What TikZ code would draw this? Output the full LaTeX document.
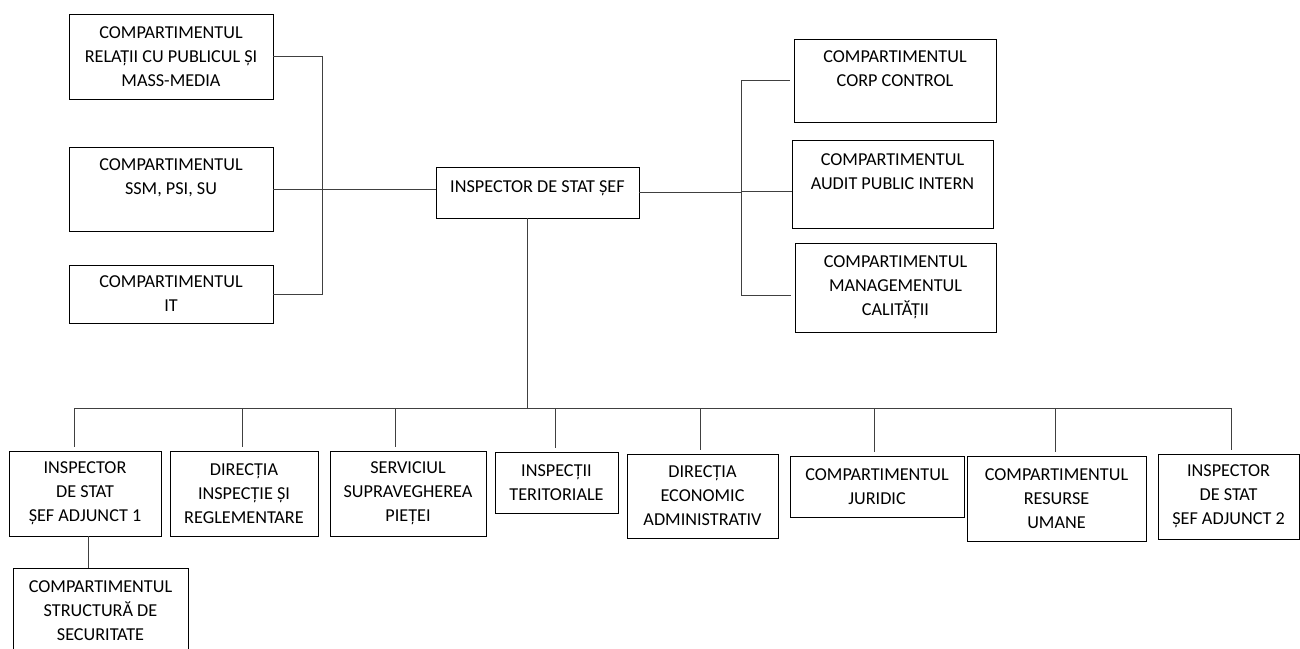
\documentclass[tikz,border=0pt]{standalone}
\usepackage{fontspec}
\setmainfont{Carlito}

\tikzset{
	unit/.style={draw, line width=0.9pt, align=center, inner sep=2pt, font=\fontsize{18.2}{24}\selectfont},
	link/.style={draw=black!75, line width=0.8pt},
}

\begin{document}
\begin{tikzpicture}[x=1pt, y=-1pt]
	\useasboundingbox [fill=white] (0,0) rectangle (1300,648);

	% Nodes, left column
	\node [unit, minimum width=204pt, minimum height=85pt] (rel)  at (171,56.5) {COMPARTIMENTUL\\RELAȚII CU PUBLICUL ȘI\\MASS-MEDIA};
	\node [unit, minimum width=204pt, minimum height=84pt] (ssm)  at (171,189)  {COMPARTIMENTUL\\SSM, PSI, SU\\\mbox{}};
	\node [unit, minimum width=204pt, minimum height=58pt] (itc)  at (171,294)  {COMPARTIMENTUL\\IT};

	% Nodes, centre and right column
	\node [unit, minimum width=203pt, text height=21pt, text depth=22pt, inner ysep=4pt] (chief) at (537.5,192.5) {INSPECTOR DE STAT ȘEF};
	\node [unit, minimum width=202pt, minimum height=83pt] (corp)  at (895,80.5)   {COMPARTIMENTUL\\CORP CONTROL\\\mbox{}};
	\node [unit, minimum width=201pt, minimum height=88pt] (audit) at (892.5,184)  {COMPARTIMENTUL\\AUDIT PUBLIC INTERN\\\mbox{}};
	\node [unit, minimum width=201pt, minimum height=89pt] (mgmt)  at (895.5,287.5) {COMPARTIMENTUL\\MANAGEMENTUL\\CALITĂȚII};

	% Nodes, bottom row
	\node [unit, minimum width=152pt, minimum height=85pt] (ins1) at (85,493.5)    {INSPECTOR\\DE STAT\\ȘEF ADJUNCT 1};
	\node [unit, minimum width=148pt, minimum height=85pt] (dir1) at (244,493.5)   {DIRECȚIA\\INSPECȚIE ȘI\\REGLEMENTARE};
	\node [unit, minimum width=156pt, minimum height=85pt] (srv)  at (408,493.5)   {SERVICIUL\\SUPRAVEGHEREA\\PIEȚEI};
	\node [unit, minimum width=123pt, minimum height=61pt] (teri) at (556.5,482.5) {INSPECȚII\\TERITORIALE};
	\node [unit, minimum width=151pt, minimum height=84pt] (eco)  at (702.5,496)   {DIRECȚIA\\ECONOMIC\\ADMINISTRATIV};
	\node [unit, minimum width=174pt, minimum height=61pt] (jur)  at (877,486.5)   {COMPARTIMENTUL\\JURIDIC};
	\node [unit, minimum width=179pt, minimum height=85pt] (hr)   at (1056.5,498.5) {COMPARTIMENTUL\\RESURSE\\UMANE};
	\node [unit, minimum width=141pt, minimum height=85pt] (ins2) at (1228.5,496.5) {INSPECTOR\\DE STAT\\ȘEF ADJUNCT 2};
	\node [unit, minimum width=175pt, minimum height=85pt] (sub)  at (100.5,610.5) {COMPARTIMENTUL\\STRUCTURĂ DE\\SECURITATE};

	% Helper points
	\coordinate (rbus)   at (741,191);
	\coordinate (busL)   at (74,408);
	\coordinate (busR)   at (1232,408);
	\coordinate (mgmtin) at ([yshift=-8pt]mgmt.west);
	\coordinate (trunk)  at ([xshift=-10pt]chief.south);
	\coordinate (subtop) at ([xshift=3pt]ins1.south);

	% Paths, left side
	\draw [link] (rel.east) -- ++(49,0) |- (itc.east);
	\draw [link] (ssm.east) -- (ssm.east -| chief.west);

	% Paths, right side
	\draw [link] (chief.east) -- (chief.east -| rbus);
	\draw [link] (rbus |- corp.west) -- (rbus |- mgmtin);
	\draw [link, shorten >=4pt] (rbus |- corp.west) -- (corp.west);
	\draw [link] (rbus) -- (rbus -| audit.west);
	\draw [link, shorten >=4pt] (rbus |- mgmtin) -- (mgmtin);

	% Paths, bottom row
	\draw [link] (trunk) -- (trunk |- busL);
	\draw [link] (busL) -- (busR);
	\foreach \n/\dx in {ins1/-11, dir1/-2, srv/-13, teri/-1, eco/-2, jur/-3, hr/-1, ins2/3} {
		\coordinate (drop) at ([xshift=\dx pt]\n.north);
		\draw [link, shorten >=4pt] (drop |- busL) -- (drop);
	}
	\draw [link] (subtop) -- (subtop |- sub.north);
\end{tikzpicture}
\end{document}
